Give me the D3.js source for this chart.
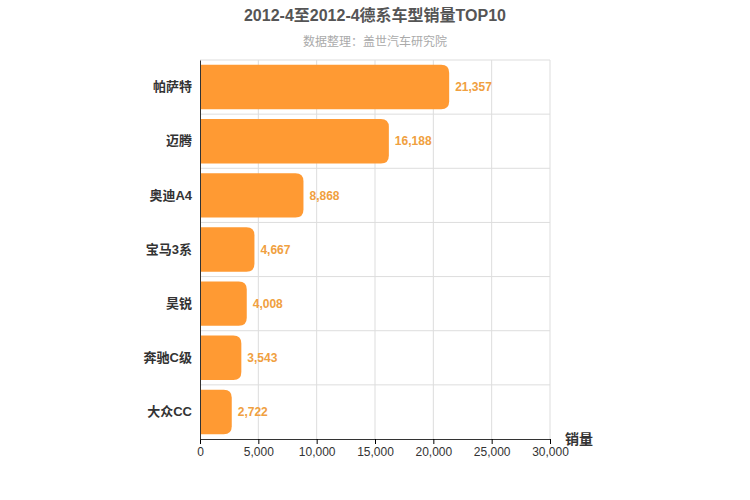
<!DOCTYPE html>
<html><head><meta charset="utf-8">
<script src="https://cdn.jsdelivr.net/npm/d3@7"></script>
<style>body{margin:0;background:#fff;font-family:"Liberation Sans","Noto Sans CJK SC",sans-serif}</style>
</head><body><div id="container"></div>
<script>
const categories = ["帕萨特","迈腾","奥迪A4","宝马3系","昊锐","奔驰C级","大众CC"];
const sales = [21357,16188,8868,4667,4008,3543,2722];
const xTicks = [0,5000,10000,15000,20000,25000,30000];

const width = 750, height = 500,
  margin = {top: 60, bottom: 61, left: 200, right: 200};

const svg = d3.select("#container").append("svg")
  .attr("width", width).attr("height", height)
  .style("font-family", "'Liberation Sans','Noto Sans CJK SC',sans-serif");

const xScale = d3.scaleLinear().domain([0,30000]).range([margin.left, width - margin.right]);
const yScale = d3.scaleBand().domain(categories).range([margin.top, height - margin.bottom]).paddingInner(0.18).paddingOuter(0.09);
const step = yScale.step();

// grid
svg.append("g").selectAll("line").data(xTicks.slice(1)).join("line")
  .attr("x1", d => xScale(d)).attr("x2", d => xScale(d))
  .attr("y1", margin.top).attr("y2", height - margin.bottom)
  .attr("stroke", "#ddd");
svg.append("g").selectAll("line").data(d3.range(categories.length)).join("line")
  .attr("x1", margin.left).attr("x2", width - margin.right)
  .attr("y1", d => margin.top + d * step).attr("y2", d => margin.top + d * step)
  .attr("stroke", "#ddd");

// bars
svg.append("g").selectAll("path").data(sales).join("path")
  .attr("fill", "#ff9a33")
  .attr("d", (d, i) => {
    const x0 = xScale(0), x1 = xScale(d), y = yScale(categories[i]), h = yScale.bandwidth(), r = 8;
    return `M${x0},${y}H${x1-r}Q${x1},${y} ${x1},${y+r}V${y+h-r}Q${x1},${y+h} ${x1-r},${y+h}H${x0}Z`;
  });

svg.append("g").selectAll("text").data(sales).join("text")
  .attr("x", d => xScale(d) + 6)
  .attr("y", (d, i) => yScale(categories[i]) + yScale.bandwidth() / 2)
  .attr("dy", "0.35em")
  .attr("fill", "#f0a040").attr("font-size", 12).attr("font-weight", "bold")
  .text(d => d3.format(",")(d));

// axes
const xAxis = svg.append("g")
  .attr("transform", `translate(0,${height - margin.bottom})`)
  .call(d3.axisBottom(xScale).tickValues(xTicks).tickFormat(d3.format(",")).tickSize(5));
xAxis.selectAll("text").attr("font-size", 12).attr("fill", "#333").style("font-family", "inherit");
xAxis.select(".domain").attr("stroke", "#333");

const yAxis = svg.append("g")
  .attr("transform", `translate(${margin.left},0)`)
  .call(d3.axisLeft(yScale).tickSize(0).tickPadding(8));
yAxis.selectAll("text").attr("font-size", 13).attr("font-weight", "bold").attr("fill", "#333");
yAxis.select(".domain").attr("stroke", "#333");
svg.selectAll(".tick text").style("font-family", "'Liberation Sans','Noto Sans CJK SC',sans-serif");
svg.selectAll("g").attr("font-family", null);

svg.append("text").attr("x", 565).attr("y", 444)
  .attr("font-size", 14).attr("font-weight", "bold").attr("fill", "#333").text("销量");

svg.append("text").attr("x", width / 2).attr("y", 21).attr("text-anchor", "middle")
  .attr("font-size", 16).attr("font-weight", "bold").attr("fill", "#555").text("2012-4至2012-4德系车型销量TOP10");
svg.append("text").attr("x", width / 2).attr("y", 46).attr("text-anchor", "middle")
  .attr("font-size", 12).attr("fill", "#aaa").text("数据整理：盖世汽车研究院");
</script></body></html>
